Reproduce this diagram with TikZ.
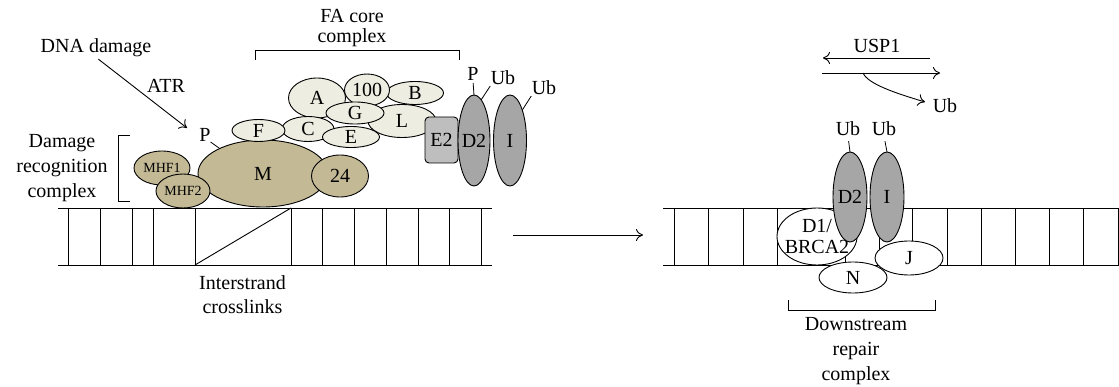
\documentclass[tikz,border=0pt]{standalone}
\usepackage{fontspec}
\setmainfont{Liberation Serif}
\usetikzlibrary{arrows.meta,shapes.geometric}

\definecolor{corefill}{HTML}{EDEDE1}
\definecolor{tanfill}{HTML}{C3B995}
\definecolor{dgray}{HTML}{A6A6A6}
\definecolor{egray}{HTML}{BEBEBE}

\begin{document}
\begin{tikzpicture}[x=1pt,y=-1pt,
  every node/.style={inner sep=0pt, outer sep=0pt, font=\fontsize{20}{25}\selectfont},
  pr/.style args={#1/#2}{ellipse, draw, line width=0.9pt, minimum width=#1pt, minimum height=#2pt},
  coreprot/.style={pr=#1, fill=corefill},
  tanprot/.style={pr=#1, fill=tanfill},
  grayprot/.style={pr=#1, fill=dgray},
  whiteprot/.style={pr=#1, fill=white},
  strand/.style={line width=0.9pt},
  tick/.style={line width=0.8pt},
  arr/.style={line width=0.9pt, -{To[length=7pt,width=12pt]}},
  small/.style={font=\fontsize{14}{16}\selectfont}
]
\useasboundingbox (0,0) rectangle (1119,387);

% ---------- left DNA duplex with the crosslink ----------
\draw[strand] (58,208) -- (492,208) (58,265) -- (492,265);
\foreach \x in {68,100,132,153,195,291,322,354,386,418,449,481}
  \draw[strand] (\x,208) -- (\x,265);
\draw[strand] (195,265) -- (291,208);

% ---------- damage recognition complex ----------
\node[tanprot={130/67}] (M) at (263,173.5) {};
\node at (M) {M};
\node[tanprot={56/34}, label={[small]center:MHF1}] (mhf1) at (162,168) {};
\node[tanprot={54/34}, label={[small]center:MHF2}] (mhf2) at (183,191) {};
\node[tanprot={57/42}, label=center:24] (p24) at (340,176) {};

% ---------- FA core complex ----------
\node[coreprot={68/33}, label=center:L] (L) at (402,121) {};
\node[coreprot={57/23}, label=center:B] (B) at (415,93) {};
\node[coreprot={57/40}, label=center:A] (A) at (317,98) {};
\node[coreprot={45/32}, label=center:100] (p100) at (367,90) {};
\node[coreprot={58/22}, label=center:G] (G) at (355,113) {};
\node[coreprot={52/25}, label=center:C] (C) at (308,129) {};
\node[coreprot={53/22}, label=center:F] (F) at (258.5,130.5) {};
\node[coreprot={57/21}, label=center:E] (E) at (351,137) {};

\node[draw, line width=0.9pt, fill=egray, rounded corners=4pt,
      minimum width=33pt, minimum height=46pt] (E2) at (441.5,140) {E2};
\node[grayprot={32/91}, label=center:D2] (D2) at (474,140.5) {};
\node[grayprot={33/91}, label=center:I] (I) at (510,140.5) {};

% ---------- modification labels ----------
\node[anchor=base] (pM) at (205,142) {P};
\draw[tick] (pM.south east) -- (M.150);
\node[anchor=base] (pD2) at (473,81) {P};
\draw[tick, shorten <=2pt] (pD2.south) -- (D2.north);
\node[anchor=base] (ubD2) at (503,85) {Ub};
\draw[tick, shorten <=1pt] (ubD2.south west) -- (D2.80);
\node[anchor=base] (ubI) at (544,95) {Ub};
\draw[tick, shorten <=1pt] (ubI.south west) -- (I.68);

% ---------- text and brackets ----------
\node[anchor=base] (dna) at (96,53) {DNA damage};
\coordinate (atrEnd) at (187,128);
\draw[arr, shorten <=3pt] (dna.south) -- (atrEnd);
\node[anchor=base] (atr) at (166,93) {ATR};

\node[align=center, font=\fontsize{20}{20}\selectfont] (facore) at (352,27.6) {FA core\\complex};
\draw[tick] (255,60) -- (255,50) -- (459,50) -- (459,60);

\node[align=center] (drc) at (62,168) {Damage\\recognition\\complex};
\draw[tick] (130,135) -- (118,135) -- (118,201) -- (130,201);

\node[align=center, font=\fontsize{20}{24}\selectfont] (icl) at (242.5,295) {Interstrand\\crosslinks};

% ---------- transition arrow ----------
\coordinate (midS) at (513,235);
\coordinate (midE) at (643,235);
\draw[arr] (midS) -- (midE);

% ---------- right DNA duplex ----------
\draw[strand] (663,208) -- (1119,208) (663,265) -- (1119,265);
\foreach \x in {674,708,743,777,811,845,879,912,947,981,1015,1049,1083,1118}
  \draw[strand] (\x,208) -- (\x,265);

\node[whiteprot={80/57}, label={[align=center, font=\fontsize{20}{21}\selectfont]center:D1/\\BRCA2}] (D1) at (817,236.5) {};
\node[grayprot={34/90}, label=center:D2] (D2r) at (850,197) {};
\node[grayprot={34/90}, label=center:I] (Ir) at (887,197) {};
\node[whiteprot={68/34}, label=center:J] (J) at (909,258) {};
\node[whiteprot={68/31}, label=center:N] (N) at (853,277.5) {};

\node[anchor=base] (ubD2r) at (848,136) {Ub};
\draw[tick, shorten <=5pt] (ubD2r.south) -- (D2r.north);
\node[anchor=base] (ubIr) at (884,136) {Ub};
\draw[tick, shorten <=5pt] (ubIr.south) -- (Ir.north);

\draw[tick] (788,300) -- (788,310) -- (935,310) -- (935,300);
\node[align=center] (drc2) at (856,351.3) {Downstream\\repair\\complex};

% ---------- USP1 deubiquitination ----------
\node[anchor=base] (usp) at (877,53) {USP1};
\coordinate (uUpS) at (930,58);
\coordinate (uUpE) at (823,58);
\coordinate (uLoS) at (822,73);
\coordinate (uLoE) at (940,73);
\coordinate (uBr) at (863,73);
\coordinate (uBrE) at (925,102);
\draw[arr] (uUpS) -- (uUpE);
\draw[arr] (uLoS) -- (uLoE);
\draw[arr] (uBr) .. controls (868,84) and (895,93) .. (uBrE);
\node[anchor=base] (ubFree) at (945,113) {Ub};
\end{tikzpicture}
\end{document}
